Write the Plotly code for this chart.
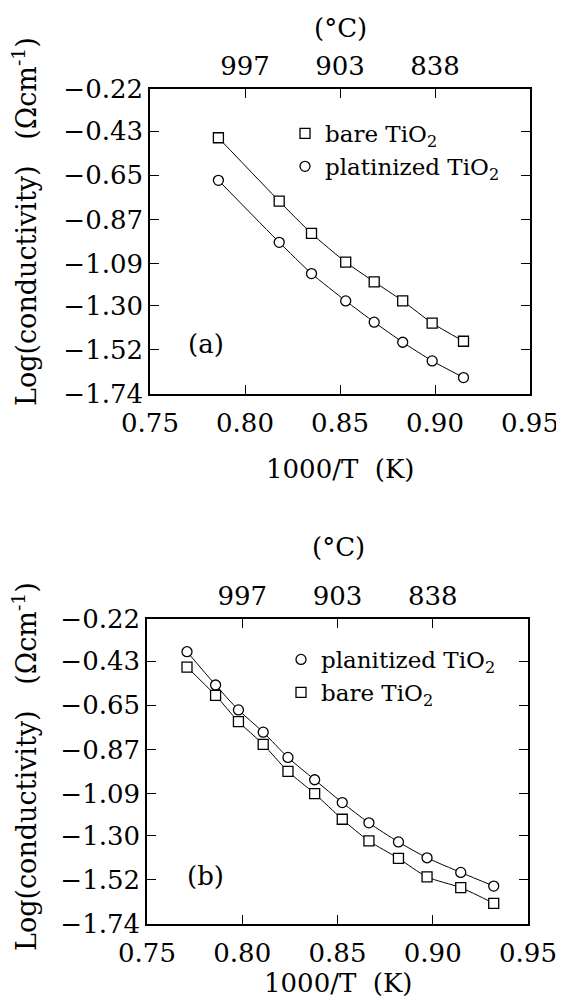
import plotly.graph_objects as go

# ---------------- data ----------------
# panel (a)
a_x = [0.786, 0.818, 0.835, 0.853, 0.868, 0.883, 0.8985, 0.915]
a_bare = [-0.463, -0.779, -0.940, -1.083, -1.181, -1.276, -1.387, -1.477]
a_plat = [-0.675, -0.984, -1.140, -1.276, -1.382, -1.482, -1.575, -1.658]

# panel (b)
b_x = [0.771, 0.786, 0.798, 0.811, 0.824, 0.838, 0.8525, 0.8665, 0.882, 0.897, 0.9147, 0.932]
b_plat = [-0.383, -0.549, -0.673, -0.784, -0.910, -1.021, -1.135, -1.236, -1.331, -1.410, -1.483, -1.551]
b_bare = [-0.460, -0.601, -0.731, -0.845, -0.979, -1.090, -1.218, -1.326, -1.413, -1.505, -1.559, -1.637]

# ticks
x_tickvals = [0.75, 0.80, 0.85, 0.90, 0.95]
x_ticktext = ["0.75", "0.80", "0.85", "0.90", "0.95"]
y_tickvals = [-0.22, -0.43, -0.65, -0.87, -1.09, -1.30, -1.52, -1.74]
y_ticktext = ["\u22120.22", "\u22120.43", "\u22120.65", "\u22120.87", "\u22121.09",
              "\u22121.30", "\u22121.52", "\u22121.74"]
top_tickvals = [0.80, 0.85, 0.90]
top_ticktext = ["997", "903", "838"]

FONT = "DejaVu Serif"
PAGE_W, PAGE_H = 564, 1007
OFF = 8  # default body margin of the html page
W, H = PAGE_W - OFF, PAGE_H - OFF

fig = go.Figure()

line_style = dict(color="black", width=1)
def mk(symbol):
    return dict(symbol=symbol, size=10, color="white", line=dict(color="black", width=1.3))

# panel (a)
fig.add_trace(go.Scatter(x=a_x, y=a_bare, mode="lines", line=dict(shape="spline", smoothing=0.5, **line_style),
                         showlegend=False, xaxis="x", yaxis="y", hoverinfo="skip"))
fig.add_trace(go.Scatter(x=a_x, y=a_plat, mode="lines", line=dict(shape="spline", smoothing=0.5, **line_style),
                         showlegend=False, xaxis="x", yaxis="y", hoverinfo="skip"))
fig.add_trace(go.Scatter(x=a_x, y=a_bare, mode="markers", marker=mk("square"), name="bare TiO<sub>2</sub>",
                         xaxis="x", yaxis="y", legend="legend"))
fig.add_trace(go.Scatter(x=a_x, y=a_plat, mode="markers", marker=mk("circle"), name="platinized TiO<sub>2</sub>",
                         xaxis="x", yaxis="y", legend="legend"))
fig.add_trace(go.Scatter(x=a_x, y=a_bare, mode="markers", marker=dict(opacity=0), showlegend=False,
                         xaxis="x3", yaxis="y", hoverinfo="skip"))

# panel (b)
fig.add_trace(go.Scatter(x=b_x, y=b_plat, mode="lines", line=dict(shape="spline", smoothing=0.8, **line_style),
                         showlegend=False, xaxis="x2", yaxis="y2", hoverinfo="skip"))
fig.add_trace(go.Scatter(x=b_x, y=b_bare, mode="lines", line=dict(shape="spline", smoothing=0.8, **line_style),
                         showlegend=False, xaxis="x2", yaxis="y2", hoverinfo="skip"))
fig.add_trace(go.Scatter(x=b_x, y=b_plat, mode="markers", marker=mk("circle"), name="planitized TiO<sub>2</sub>",
                         xaxis="x2", yaxis="y2", legend="legend2"))
fig.add_trace(go.Scatter(x=b_x, y=b_bare, mode="markers", marker=mk("square"), name="bare TiO<sub>2</sub>",
                         xaxis="x2", yaxis="y2", legend="legend2"))
fig.add_trace(go.Scatter(x=b_x, y=b_bare, mode="markers", marker=dict(opacity=0), showlegend=False,
                         xaxis="x4", yaxis="y2", hoverinfo="skip"))

# page pixel -> paper fraction
def px(x):
    return (x - OFF) / W
def py(y):
    return 1 - (y - OFF) / H
def xd(l, r):
    return [px(l), px(r)]
def yd(t, b):
    return [py(b), py(t)]

axis_common = dict(showline=True, linecolor="black", linewidth=1.5, mirror="ticks", ticks="inside",
                   ticklen=9, tickwidth=1.2, tickcolor="black", showgrid=False, zeroline=False,
                   automargin=False, tickfont=dict(family=FONT, size=26, color="black"))

xa = dict(axis_common, range=[0.75, 0.95], tickvals=x_tickvals, ticktext=x_ticktext, ticklabelstandoff=5)
ya = dict(axis_common, range=[-1.74, -0.22], tickvals=y_tickvals, ticktext=y_ticktext, ticklabelstandoff=0)
top = dict(range=[0.75, 0.95], tickvals=top_tickvals, ticktext=top_ticktext, side="top",
           showline=False, ticks="", showgrid=False, zeroline=False, ticklabelstandoff=8,
           automargin=False, tickfont=dict(family=FONT, size=26, color="black"))

fig.update_layout(
    template="none",
    width=W, height=H, margin=dict(l=0, r=0, t=0, b=0, autoexpand=False),
    paper_bgcolor="white", plot_bgcolor="white",
    font=dict(family=FONT, color="black"),
    xaxis=dict(xa, domain=xd(150, 530), anchor="y"),
    yaxis=dict(ya, domain=yd(89, 394), anchor="x"),
    xaxis2=dict(xa, domain=xd(147, 528), anchor="y2"),
    yaxis2=dict(ya, domain=yd(619, 924), anchor="x2"),
    xaxis3=dict(top, overlaying="x", anchor="y"),
    xaxis4=dict(top, overlaying="x2", anchor="y2"),
    legend=dict(x=px(285), y=py(112), xanchor="left", yanchor="top", bgcolor="rgba(0,0,0,0)",
                font=dict(family=FONT, size=23, color="black"), tracegroupgap=0),
    legend2=dict(x=px(281), y=py(638), xanchor="left", yanchor="top", bgcolor="rgba(0,0,0,0)",
                 font=dict(family=FONT, size=23, color="black"), tracegroupgap=0),
    showlegend=True,
)

def ann(text, x, y, size=26, angle=0):
    fig.add_annotation(text=text, x=px(x), y=py(y), xref="paper", yref="paper",
                       showarrow=False, xanchor="center", yanchor="middle", textangle=angle,
                       font=dict(family=FONT, size=size, color="black"))

ann("(\u00b0C)", 340, 28)
ann("1000/T  (K)", 340, 469)
ann("Log(conductivity)   (\u03a9cm<sup>-1</sup>)", 24, 222, size=27, angle=-90)
ann("(a)", 206, 344)

ann("(\u00b0C)", 338, 547)
ann("1000/T  (K)", 338, 983)
ann("Log(conductivity)   (\u03a9cm<sup>-1</sup>)", 24, 767, size=27, angle=-90)
ann("(b)", 205, 876)

fig.write_html("out.html")
